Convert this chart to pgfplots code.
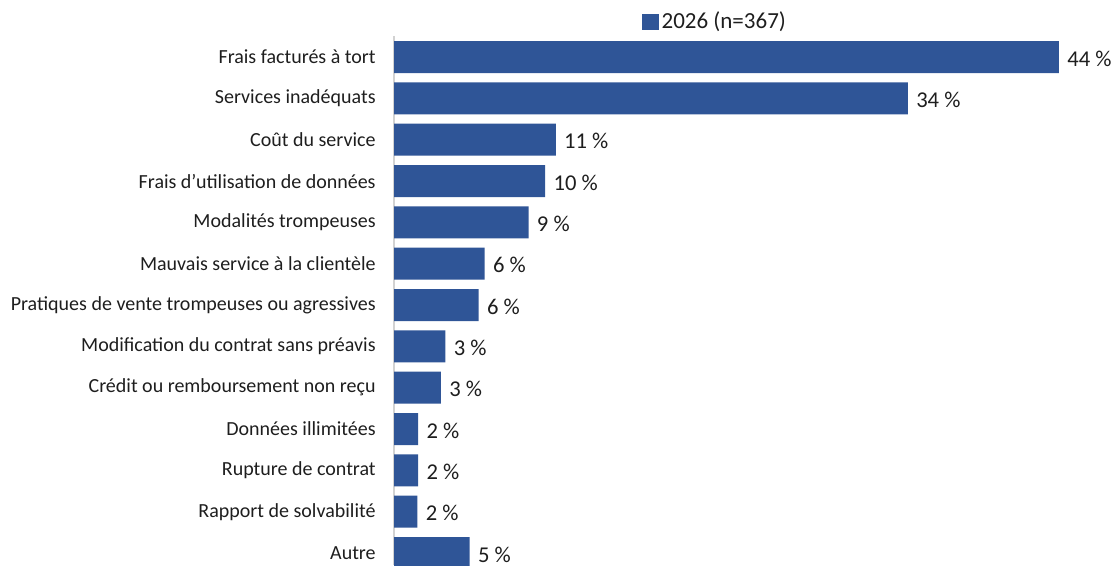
\documentclass[border=0pt]{standalone}
\usepackage{fontspec}
\setmainfont{Carlito}
\usepackage{pgfplots}
\pgfplotsset{compat=1.18}
\definecolor{barblue}{RGB}{47,85,151}
\definecolor{txt}{RGB}{30,30,30}
\begin{document}
\begin{tikzpicture}
\begin{axis}[
  name=ax,
  xbar, bar width=16pt,
  x=7.555pt, y=20.665pt,
  y dir=reverse,
  xmin=0, xmax=44, ymin=-0.5, ymax=12.29,
  enlargelimits=false,
  axis x line=none,
  axis y line*=left,
  y axis line style={draw=gray!35, line width=0.6pt},
  major tick length=0pt,
  ytick={0,...,12},
  yticklabels={{Frais facturés à tort},{Services inadéquats},{Coût du service},{Frais d’utilisation de données},{Modalités trompeuses},{Mauvais service à la clientèle},{Pratiques de vente trompeuses ou agressives},{Modification du contrat sans préavis},{Crédit ou remboursement non reçu},{Données illimitées},{Rupture de contrat},{Rapport de solvabilité},{Autre}},
  y tick label style={font=\fontsize{10}{12}\selectfont, text=txt, inner sep=0pt, xshift=-9pt},
  point meta=x,
  nodes near coords={\pgfmathprintnumber[assume math mode=true,fixed,precision=0]{\pgfplotspointmeta}~\%},
  nodes near coords style={font=\fontsize{11.3}{13}\selectfont, text=txt, anchor=west, inner sep=0pt, xshift=4pt, yshift=-0.8pt},
  legend style={at={(axis description cs:0.4835,1)}, anchor=center, yshift=7.2pt, draw=none, fill=none, font=\fontsize{11.5}{13}\selectfont, text=txt, inner sep=0pt, nodes={inner sep=1.5pt}},
  legend image code/.code={\fill[barblue] (-1pt,-4.2pt) rectangle (7.2pt,4pt);},
]
\addplot[fill=barblue, draw=none] coordinates {
(44,0) (34,1) (10.7,2) (10,3) (8.9,4) (6,5) (5.6,6) (3.4,7) (3.1,8) (1.6,9) (1.6,10) (1.55,11) (5,12)
};
\addlegendentry{2026 (n=367)}
\end{axis}
\pgfresetboundingbox
\path ([shift={(-197pt,18.17pt)}]ax.north west) rectangle ([shift={(27.5pt,0pt)}]ax.south east);
\end{tikzpicture}
\end{document}
